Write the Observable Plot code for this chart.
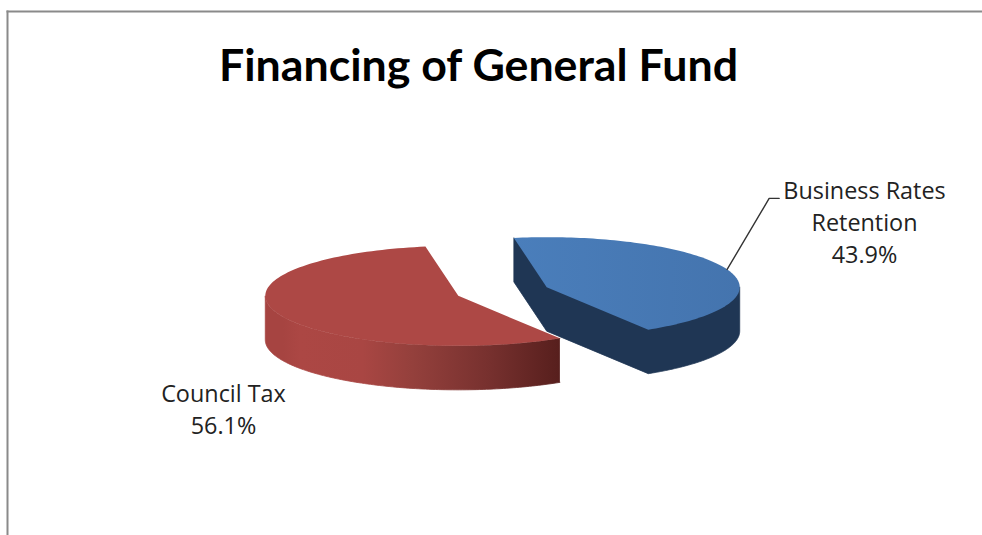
<!DOCTYPE html>
<html>
<head>
<meta charset="utf-8">
<script src="https://cdn.jsdelivr.net/npm/d3@7"></script>
<script src="https://cdn.jsdelivr.net/npm/@observablehq/plot@0.6"></script>
<style>
  html, body { margin: 0; padding: 0; background: #fff; overflow: hidden; }
</style>
</head>
<body>
<div id="chart"></div>
<script>
// Share of the General Fund by source
const sources = ["Business Rates\nRetention", "Council Tax"];
const shares = [43.9, 56.1];
const chartTitle = "Financing of General Fund";

// Tilted pie drawn on a unit disc: x and y scales squash the disc to an ellipse.
const RX = 193, RY = 50;          // on-screen radii
const CX = 502, CY = 291;         // on-screen centre of the unexploded pie
const DEPTH = 44 / RY;            // extrusion, in y units
const EXPLODE = 0.245;            // slice pull-out, in disc radii
const START = -9.8 * Math.PI / 180;

const arcs = d3.pie().sort(null).startAngle(START).endAngle(START + 2 * Math.PI)(shares);

const slices = arcs.map((a, i) => {
  const mid = (a.startAngle + a.endAngle) / 2;
  return {
    name: sources[i],
    share: shares[i],
    start: a.startAngle,
    end: a.endAngle,
    mid,
    ox: EXPLODE * Math.sin(mid),
    oy: EXPLODE * Math.cos(mid)
  };
});

const rim = (s, t, drop = 0) => ({x: s.ox + Math.sin(t), y: s.oy + Math.cos(t) - drop});
const apex = (s, drop = 0) => ({x: s.ox, y: s.oy - drop});
const sweep = (a, b) => d3.range(0, 121).map(k => a + (b - a) * k / 120);

// Top face of a slice
const topFace = s => [apex(s), ...sweep(s.start, s.end).map(t => rim(s, t)), apex(s)];

// Outer wall between two angles
const rimWall = (s, a, b) => [
  ...sweep(a, b).map(t => rim(s, t)),
  ...sweep(b, a).map(t => rim(s, t, DEPTH))
];

// Whole dark body of the blue slice: cut edges plus the front of its rim
const blueBody = s => [
  rim(s, s.start),
  rim(s, s.start, DEPTH),
  apex(s, DEPTH),
  ...sweep(s.end, Math.PI / 2).map(t => rim(s, t, DEPTH)),
  rim(s, Math.PI / 2)
];

const [blue, red] = slices;
const poly = (pts, fill, stroke = "none") =>
  Plot.line(pts, {x: "x", y: "y", fill, stroke, strokeWidth: 0.8, curve: "linear"});

// Shading of the red outer wall and the blue top
const shading = () => {
  const ns = "http://www.w3.org/2000/svg";
  const defs = document.createElementNS(ns, "defs");
  const grad = (id, stops) => {
    const g = document.createElementNS(ns, "linearGradient");
    g.setAttribute("id", id);
    stops.forEach(([o, c]) => {
      const s = document.createElementNS(ns, "stop");
      s.setAttribute("offset", o);
      s.setAttribute("stop-color", c);
      g.appendChild(s);
    });
    defs.appendChild(g);
  };
  grad("redWall", [[0, "#a64441"], [0.06, "#a64441"], [0.12, "#ac4744"], [0.33, "#a94643"], [0.5, "#94403c"], [0.75, "#78312f"], [1, "#571f1d"]]);
  grad("blueTop", [[0, "#4a7ebb"], [1, "#4474ae"]]);
  return defs;
};

// Leader from the rim of the blue slice up to its label
const leaderStart = rim(blue, blue.mid);
const leader = [
  leaderStart,
  {x: leaderStart.x + 42 / RX, y: leaderStart.y + 71 / RY},
  {x: leaderStart.x + 52 / RX, y: leaderStart.y + 71 / RY}
];

const labelText = s => `${s.name}\n${s.share.toFixed(1)}%`;
const labels = [
  {text: labelText(blue), dx: 362, dy: -71},
  {text: labelText(red), dx: -279, dy: 116}
];

const chart = Plot.plot({
  width: 982,
  height: 535,
  marginTop: 11,
  marginLeft: 7,
  marginRight: 0,
  marginBottom: 0,
  style: {background: "#fff"},
  x: {domain: [-1, 1], range: [CX - RX, CX + RX], axis: null},
  y: {domain: [-1, 1], range: [CY + RY, CY - RY], axis: null},
  marks: [
    shading,
    Plot.frame({anchor: "top", stroke: "#8a8a8a", strokeWidth: 2}),
    Plot.frame({anchor: "left", stroke: "#8a8a8a", strokeWidth: 2}),

    // Blue slice: body, then top
    poly(blueBody(blue), "#1f3654", "#1f3654"),
    poly(topFace(blue), "url(#blueTop)"),

    // Red slice: wall, then top
    poly(rimWall(red, red.start, 3 * Math.PI / 2), "url(#redWall)", "url(#redWall)"),
    poly(topFace(red), "#ad4845"),

    Plot.line(leader, {x: "x", y: "y", stroke: "#333", strokeWidth: 1.4}),

    ...labels.map(l => Plot.text([l.text], {
      x: () => 0, y: () => 0,
      dx: l.dx, dy: l.dy,
      text: d => d, fontSize: 23.4, lineHeight: 1.37,
      fontFamily: "'Open Sans'", fill: "#222", textAnchor: "middle"
    })),

    Plot.text([chartTitle], {
      x: () => 0, y: () => 0,
      dx: -24, dy: -225,
      text: d => d,
      fontSize: 44.7, fontWeight: 700,
      fontFamily: "Lato", fill: "#000", textAnchor: "middle"
    })
  ]
});

document.getElementById("chart").appendChild(chart);
</script>
</body>
</html>
